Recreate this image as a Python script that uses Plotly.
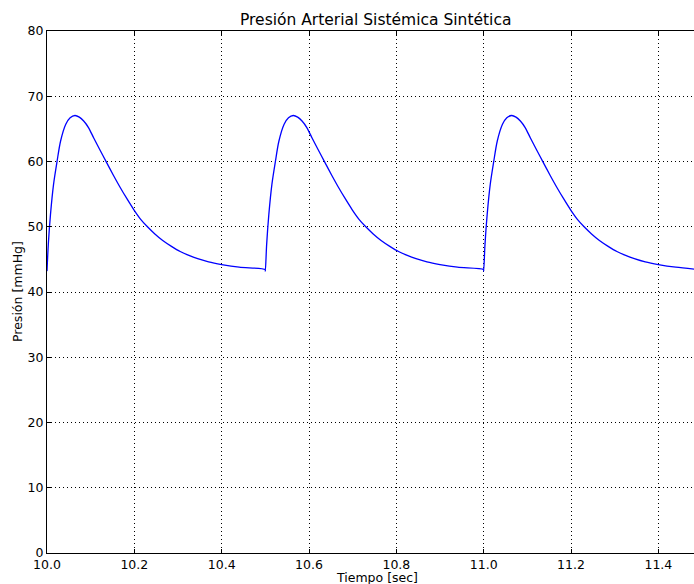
import plotly.graph_objects as go

# Time [sec]
time_sec = [
    10.000, 10.003, 10.008, 10.015, 10.023, 10.031, 10.043, 10.053, 10.064, 10.074,
    10.084, 10.095, 10.107, 10.121, 10.136, 10.152, 10.167, 10.183, 10.199, 10.215,
    10.230, 10.247, 10.265, 10.285, 10.305, 10.325, 10.345, 10.370, 10.400, 10.440, 10.4995,
    10.500, 10.503, 10.508, 10.515, 10.523, 10.531, 10.543, 10.553, 10.564, 10.574,
    10.584, 10.595, 10.607, 10.621, 10.636, 10.652, 10.667, 10.683, 10.699, 10.715,
    10.730, 10.747, 10.765, 10.785, 10.805, 10.825, 10.845, 10.870, 10.900, 10.940, 10.9995,
    11.000, 11.003, 11.008, 11.015, 11.023, 11.031, 11.043, 11.053, 11.064, 11.074,
    11.084, 11.095, 11.107, 11.121, 11.136, 11.152, 11.167, 11.183, 11.199, 11.215,
    11.230, 11.247, 11.265, 11.285, 11.305, 11.325, 11.345, 11.370, 11.400, 11.440, 11.482,
]

# Pressure [mmHg]
pressure_mmhg = [
    43.2, 47.3, 51.9, 56.5, 60.0, 63.1, 65.7, 66.7, 67.05, 66.8,
    66.2, 65.2, 63.6, 61.8, 59.9, 57.9, 56.1, 54.3, 52.6, 51.1,
    50.0, 48.9, 47.9, 47.0, 46.2, 45.6, 45.1, 44.6, 44.2, 43.8, 43.45,
    43.2, 47.3, 51.9, 56.5, 60.0, 63.1, 65.7, 66.7, 67.05, 66.8,
    66.2, 65.2, 63.6, 61.8, 59.9, 57.9, 56.1, 54.3, 52.6, 51.1,
    50.0, 48.9, 47.9, 47.0, 46.2, 45.6, 45.1, 44.6, 44.2, 43.8, 43.45,
    43.2, 47.3, 51.9, 56.5, 60.0, 63.1, 65.7, 66.7, 67.05, 66.8,
    66.2, 65.2, 63.6, 61.8, 59.9, 57.9, 56.1, 54.3, 52.6, 51.1,
    50.0, 48.9, 47.9, 47.0, 46.2, 45.6, 45.1, 44.6, 44.2, 43.8, 43.5,
]

x_ticks = [10.0, 10.2, 10.4, 10.6, 10.8, 11.0, 11.2, 11.4]
x_tick_labels = ["10.0", "10.2", "10.4", "10.6", "10.8", "11.0", "11.2", "11.4"]
y_ticks = [0, 10, 20, 30, 40, 50, 60, 70, 80]
y_tick_labels = ["0", "10", "20", "30", "40", "50", "60", "70", "80"]

title_text = "Presión Arterial Sistémica Sintética"
x_label = "Tiempo [sec]"
y_label = "Presión [mmHg]"

FONT = "DejaVu Sans"

fig = go.Figure()
fig.add_trace(go.Scatter(
    x=time_sec, y=pressure_mmhg, mode="lines",
    line=dict(color="#0000ff", width=1.3, shape="spline", smoothing=0.8),
    hoverinfo="skip", showlegend=False,
))

axis_common = dict(
    showline=True, linecolor="black", linewidth=1,
    ticks="inside", ticklen=4, tickwidth=1, tickcolor="black",
    showgrid=True, gridcolor="black", gridwidth=1, griddash="1px,3px",
    zeroline=False,
    tickfont=dict(family=FONT, size=12.5, color="black"),
)

fig.update_xaxes(
    range=[10.0, 11.4816], tickvals=x_ticks, ticktext=x_tick_labels,
    mirror="ticks", **axis_common,
)
fig.update_yaxes(
    range=[0, 80], tickvals=y_ticks, ticktext=y_tick_labels,
    mirror=False, **axis_common,
)

fig.update_layout(
    width=694, height=584,
    margin=dict(l=47, r=0, t=31, b=31),
    paper_bgcolor="white", plot_bgcolor="white",
    font=dict(family=FONT, color="black"),
    annotations=[
        dict(text=title_text, xref="paper", yref="paper", x=(375.5 - 47) / 647, y=1,
             xanchor="center", yanchor="bottom", yshift=0, showarrow=False,
             font=dict(family=FONT, size=15.5, color="black")),
        dict(text=x_label, xref="paper", yref="paper", x=(377 - 47) / 647, y=0,
             xanchor="center", yanchor="top", yshift=-15, showarrow=False,
             font=dict(family=FONT, size=12.5, color="black")),
        dict(text=y_label, xref="paper", yref="paper", x=0, y=0.5,
             xanchor="center", yanchor="middle", xshift=-30, textangle=-90,
             showarrow=False, font=dict(family=FONT, size=12.5, color="black")),
    ],
)

fig.write_html("out.html")
